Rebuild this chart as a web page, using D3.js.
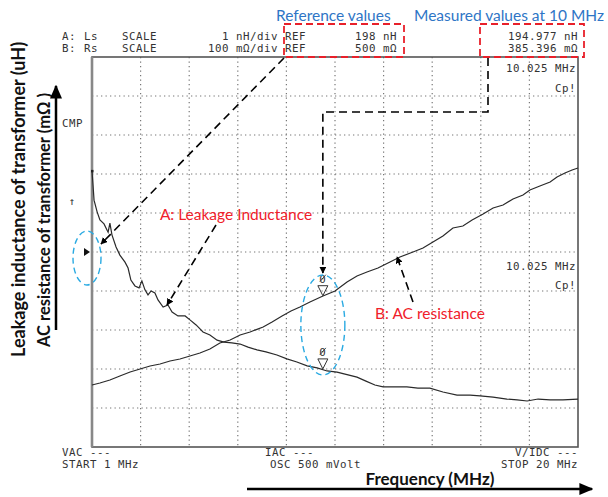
<!DOCTYPE html>
<html>
<head>
<meta charset="utf-8">
<script src="https://cdn.jsdelivr.net/npm/d3@7"></script>
<style>
  body { margin: 0; background: #fff; }
  .mono { font-family: "DejaVu Sans Mono", monospace; font-size: 10.8px; letter-spacing: 0.5px; fill: #333; }
  .note { font-family: Lato, "Open Sans", sans-serif; }
</style>
</head>
<body>
<div id="chart"></div>
<script>
// trace A: Ls (nH) against frequency (MHz)
var freqA = [1.0,1.04,1.08,1.20,1.31,1.47,1.59,1.63,1.70,1.78,1.94,2.09,2.29,2.41,2.52,2.68,2.84,2.95,3.07,3.19,3.31,3.46,3.58,3.78,3.97,4.13,4.36,4.64,4.83,5.07,5.34,5.61,5.89,6.16,6.47,6.79,7.10,7.45,7.80,8.23,8.62,9.01,9.41,9.80,10.19,10.58,11.01,11.36,11.71,12.06,12.38,12.85,13.31,13.74,14.21,14.72,15.27,15.78,16.17,16.68,17.22,17.62,18.01,18.44,18.91,19.41,20.0];
var lsA = [200.08,199.72,199.33,199.03,198.82,198.72,198.56,198.51,198.74,198.44,198.13,197.92,197.74,197.59,197.28,197.13,197.08,197.26,197.03,196.90,197.00,196.95,196.77,196.59,196.64,196.46,196.36,196.36,196.26,196.13,195.95,195.87,195.74,195.69,195.67,195.64,195.56,195.49,195.44,195.36,195.26,195.18,195.08,195.03,194.95,194.92,194.85,194.79,194.69,194.59,194.54,194.54,194.54,194.51,194.51,194.41,194.33,194.33,194.31,194.28,194.23,194.21,194.18,194.23,194.21,194.21,194.23];

// trace B: Rs (mOhm) against frequency (MHz)
var freqB = [1.0,1.31,1.70,2.09,2.49,2.88,3.27,3.66,4.05,4.44,4.83,5.22,5.61,6.00,6.40,6.79,7.18,7.69,8.04,8.43,8.78,9.13,9.52,10.03,10.50,10.97,11.36,11.75,12.18,12.65,13.04,13.55,13.94,14.33,14.72,15.11,15.50,15.86,16.29,16.68,17.07,17.46,17.85,18.12,18.51,18.91,19.18,19.49,19.77,20.0];
var rsB = [158.9,164.1,171.8,182.1,192.3,200.0,207.7,212.8,220.5,225.6,233.3,241.0,251.3,266.7,274.4,287.2,294.9,307.7,320.5,335.9,348.7,359.0,371.8,387.0,400.0,423.1,438.5,448.7,459.0,474.4,487.2,500.0,510.3,525.6,541.0,561.5,566.7,582.1,597.4,612.8,620.5,635.9,646.2,659.0,669.2,679.5,692.3,702.6,710.3,715.4];

// instrument settings / readouts
var startF = 1, stopF = 20, divs = 10;
var refA = 198, scaleA = 1;      // nH, nH/div
var refB = 500, scaleB = 100;    // mOhm, mOhm/div
var markerF = 10.025;
var markerA = 194.977, markerB = 385.396;

var margin = {top: 57, left: 92};
var width = 486, height = 390;

var x = d3.scaleLinear().domain([startF, stopF]).range([0, width]);
var yA = d3.scaleLinear().domain([refA - 5 * scaleA, refA + 5 * scaleA]).range([height, 0]);
var yB = d3.scaleLinear().domain([refB - 5 * scaleB, refB + 5 * scaleB]).range([height, 0]);

var svg = d3.select('#chart').append('svg')
    .attr('width', 608)
    .attr('height', 497);

var defs = svg.append('defs');
defs.append('marker')
    .attr('id', 'head')
    .attr('viewBox', '0 0 10 10')
    .attr('refX', 9).attr('refY', 5)
    .attr('markerWidth', 7).attr('markerHeight', 7)
    .attr('markerUnits', 'userSpaceOnUse')
    .attr('orient', 'auto')
    .append('path').attr('d', 'M0,0L10,5L0,10Z').attr('fill', '#000');
defs.append('marker')
    .attr('id', 'bighead')
    .attr('viewBox', '0 0 10 10')
    .attr('refX', 9).attr('refY', 5)
    .attr('markerWidth', 14).attr('markerHeight', 12)
    .attr('markerUnits', 'userSpaceOnUse')
    .attr('orient', 'auto')
    .attr('preserveAspectRatio', 'none')
    .append('path').attr('d', 'M0,0L10,5L0,10Z').attr('fill', '#000');

var plot = svg.append('g')
    .attr('transform', 'translate(' + margin.left + ',' + margin.top + ')');

// dotted grid
var gridF = d3.range(1, divs).map(i => startF + i * (stopF - startF) / divs);
var gridA = d3.range(1, divs).map(i => refA - 5 * scaleA + i * scaleA);

plot.selectAll('.vgrid').data(gridF).enter()
    .append('line')
    .attr('x1', d => x(d)).attr('x2', d => x(d))
    .attr('y1', 0).attr('y2', height)
    .attr('stroke', '#777').attr('stroke-width', 1.2)
    .attr('stroke-dasharray', '1.3,3.2');
plot.selectAll('.hgrid').data(gridA).enter()
    .append('line')
    .attr('y1', d => yA(d)).attr('y2', d => yA(d))
    .attr('x1', 0).attr('x2', width)
    .attr('stroke', '#777').attr('stroke-width', 1.2)
    .attr('stroke-dasharray', '1.3,3.2');

// frame
plot.append('rect')
    .attr('width', width).attr('height', height)
    .attr('fill', 'none').attr('stroke', '#555').attr('stroke-width', 1.6);
plot.append('line')
    .attr('x1', 0).attr('x2', 0).attr('y1', 0).attr('y2', height)
    .attr('stroke', '#888').attr('stroke-width', 2.6);

// traces
var lineA = d3.line().x((d, i) => x(freqA[i])).y(d => yA(d));
var lineB = d3.line().x((d, i) => x(freqB[i])).y(d => yB(d));

plot.append('path').datum(lsA)
    .attr('fill', 'none').attr('stroke', '#2a2a2a').attr('stroke-width', 1.2)
    .attr('d', lineA);
plot.append('path').datum(rsB)
    .attr('fill', 'none').attr('stroke', '#2a2a2a').attr('stroke-width', 1.2)
    .attr('d', lineB);

// start dot of trace A
plot.append('rect')
    .attr('x', x(freqA[0]) - 1).attr('y', yA(lsA[0]) - 1)
    .attr('width', 2.5).attr('height', 2.5).attr('fill', '#222');

// markers at 10.025 MHz
[[yA, markerA], [yB, markerB]].forEach(function(m) {
    var mx = x(markerF), my = m[0](m[1]);
    plot.append('path')
        .attr('d', 'M' + (mx - 5) + ',' + (my - 11) + 'L' + (mx + 5) + ',' + (my - 11) + 'L' + mx + ',' + (my - 1) + 'Z')
        .attr('fill', 'none').attr('stroke', '#333').attr('stroke-width', 1);
    plot.append('text').attr('class', 'mono')
        .attr('x', mx).attr('y', my - 14)
        .attr('text-anchor', 'middle')
        .text('0');
    plot.append('line')
        .attr('x1', mx - 3).attr('x2', mx + 3).attr('y1', my - 15).attr('y2', my - 22)
        .attr('stroke', '#333').attr('stroke-width', 0.9);
});

// marker readouts inside the frame
[[72, '10.025 MHz'], [92, 'Cp!'], [270, '10.025 MHz'], [289, 'Cp!']].forEach(function(r) {
    svg.append('text').attr('class', 'mono')
        .attr('x', 576).attr('y', r[0])
        .attr('text-anchor', 'end')
        .text(r[1]);
});

// header rows
var rows = [
    {y: 40, a: 'A:', b: 'Ls', div: scaleA + ' nH/div', ref: refA + ' nH', meas: markerA.toFixed(3) + ' nH'},
    {y: 52, a: 'B:', b: 'Rs', div: scaleB + ' m\u03a9/div', ref: refB + ' m\u03a9', meas: markerB.toFixed(3) + ' m\u03a9'}
];
rows.forEach(function(r) {
    var g = svg.append('g');
    g.append('text').attr('class', 'mono').attr('x', 62).attr('y', r.y).text(r.a);
    g.append('text').attr('class', 'mono').attr('x', 84).attr('y', r.y).text(r.b);
    g.append('text').attr('class', 'mono').attr('x', 122).attr('y', r.y).text('SCALE');
    g.append('text').attr('class', 'mono').attr('x', 278).attr('y', r.y).attr('text-anchor', 'end').text(r.div);
    g.append('text').attr('class', 'mono').attr('x', 285).attr('y', r.y).text('REF');
    g.append('text').attr('class', 'mono').attr('x', 397).attr('y', r.y).attr('text-anchor', 'end').text(r.ref);
    g.append('text').attr('class', 'mono').attr('x', 578).attr('y', r.y).attr('text-anchor', 'end').text(r.meas);
});

// left side instrument marks
svg.append('text').attr('class', 'mono').attr('x', 62).attr('y', 127).text('CMP');
svg.append('text').attr('class', 'mono').attr('x', 72).attr('y', 205).attr('text-anchor', 'middle').text('\u2191');
svg.append('path')
    .attr('d', 'M' + (margin.left - 8) + ',' + (margin.top + yA(refA) - 4) + 'l6,4l-6,4Z')
    .attr('fill', '#111');

// bottom instrument text
[[62, 456, 'start', 'VAC ---'], [62, 468, 'start', 'START ' + startF + ' MHz'],
 [265, 456, 'start', 'IAC ---'], [270, 468, 'start', 'OSC 500 mVolt'],
 [578, 456, 'end', 'V/IDC ---'], [578, 468, 'end', 'STOP ' + stopF + ' MHz']].forEach(function(t) {
    svg.append('text').attr('class', 'mono')
        .attr('x', t[0]).attr('y', t[1]).attr('text-anchor', t[2]).text(t[3]);
});

// axis titles with arrows
svg.append('text').attr('class', 'note')
    .attr('transform', 'translate(25,357) rotate(-90)')
    .attr('font-size', 18).attr('font-weight', 'bold').attr('fill', '#111')
    .text('Leakage inductance of transformer (uH)');
svg.append('text').attr('class', 'note')
    .attr('transform', 'translate(50,347) rotate(-90)')
    .attr('font-size', 16.5).attr('font-weight', 'bold').attr('fill', '#111')
    .text('AC resistance of transformer (m\u03a9 )');
svg.append('line')
    .attr('x1', 56).attr('x2', 56).attr('y1', 330).attr('y2', 86)
    .attr('stroke', '#000').attr('stroke-width', 2.5)
    .attr('marker-end', 'url(#bighead)');

svg.append('text').attr('class', 'note')
    .attr('x', 430).attr('y', 485)
    .attr('text-anchor', 'middle')
    .attr('font-size', 17).attr('font-weight', 'bold').attr('fill', '#111')
    .text('Frequency (MHz)');
svg.append('line')
    .attr('x1', 247).attr('x2', 592).attr('y1', 489).attr('y2', 489)
    .attr('stroke', '#000').attr('stroke-width', 2.5)
    .attr('marker-end', 'url(#bighead)');

// annotation boxes and labels
[[284, 24, 120, 33], [480, 24, 104, 33]].forEach(function(b) {
    svg.append('rect')
        .attr('x', b[0]).attr('y', b[1]).attr('width', b[2]).attr('height', b[3])
        .attr('fill', 'none').attr('stroke', '#e8202a').attr('stroke-width', 1.8)
        .attr('stroke-dasharray', '7,4');
});
svg.append('text').attr('class', 'note')
    .attr('x', 276).attr('y', 21).attr('font-size', 15.5).attr('fill', '#2e75c6')
    .text('Reference values');
svg.append('text').attr('class', 'note')
    .attr('x', 414).attr('y', 21).attr('font-size', 15.5).attr('fill', '#2e75c6')
    .text('Measured values at 10 MHz');

svg.append('text').attr('class', 'note')
    .attr('x', 236).attr('y', 220).attr('text-anchor', 'middle')
    .attr('font-size', 15.5).attr('fill', '#f0202a')
    .text('A: Leakage Inductance');
svg.append('text').attr('class', 'note')
    .attr('x', 430).attr('y', 319).attr('text-anchor', 'middle')
    .attr('font-size', 15.5).attr('fill', '#f0202a')
    .text('B: AC resistance');

// blue dashed ellipses
[[87, 258, 14, 27], [margin.left + x(markerF), 325, 22, 50]].forEach(function(e) {
    svg.append('ellipse')
        .attr('cx', e[0]).attr('cy', e[1]).attr('rx', e[2]).attr('ry', e[3])
        .attr('fill', 'none').attr('stroke', '#2aaae2').attr('stroke-width', 1.4)
        .attr('stroke-dasharray', '6,4');
});

// black dashed arrows
var mxAbs = margin.left + x(markerF);
var arrows = [
    [[284, 58], [101, 244]],
    [[216, 225], [167, 305]],
    [[488, 58], [488, 112], [mxAbs, 112], [mxAbs, 273]],
    [[413, 302], [397, 257]]
];
arrows.forEach(function(a) {
    svg.append('path')
        .attr('d', d3.line()(a))
        .attr('fill', 'none').attr('stroke', '#000').attr('stroke-width', 1.6)
        .attr('stroke-dasharray', '8,5')
        .attr('marker-end', 'url(#head)');
});
</script>
</body>
</html>
